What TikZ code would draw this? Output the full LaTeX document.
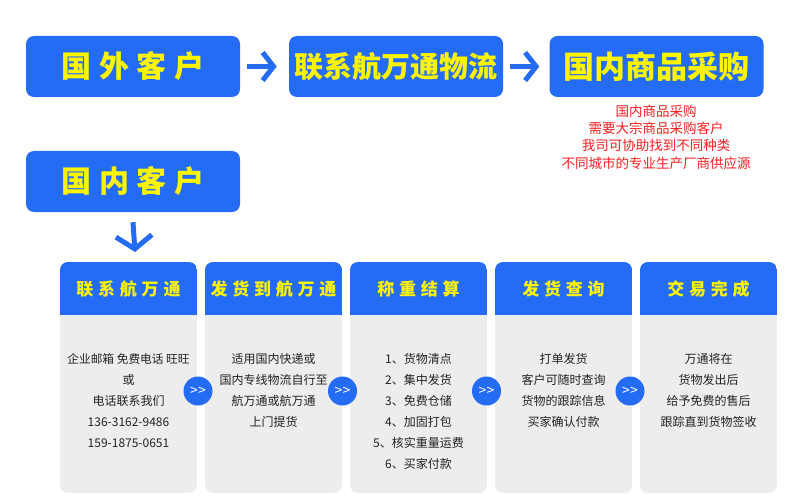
\documentclass[tikz,border=0pt]{standalone}
\usepackage{fontspec}
\setmainfont{Noto Sans CJK SC}
\usetikzlibrary{arrows.meta}
\definecolor{mblue}{RGB}{36,108,245}
\definecolor{myellow}{RGB}{255,245,0}
\definecolor{cardgray}{RGB}{237,237,237}
\definecolor{bodytext}{RGB}{34,34,34}
\definecolor{mred}{RGB}{250,30,30}
\tikzset{
  topbox/.style={fill=mblue, rounded corners=8pt, minimum width=214pt, minimum height=61pt, inner sep=0pt, text=myellow, font=\fontsize{30}{30}\selectfont\bfseries},
  arr/.style={draw=mblue, line width=5pt, -{Straight Barb[length=11pt, width=28pt]}},
  cardhead/.style={text=myellow, inner sep=0pt, font=\fontsize{17}{17}\selectfont\bfseries\addfontfeatures{LetterSpace=28}},
  cardbody/.style={text=bodytext, inner sep=0pt, align=center, font=\fontsize{12}{21}\selectfont},
  nextc/.style={circle, fill=mblue, minimum size=29pt, inner sep=0pt, text=white, font=\fontsize{14}{14}\selectfont},
  redtxt/.style={text=mred, inner sep=0pt, align=center, font=\fontsize{13.5}{17.3}\selectfont}
}
\begin{document}
\begin{tikzpicture}[x=1pt,y=-1pt]
\useasboundingbox (0,0) rectangle (790,500);
% top row
\node[topbox] (b1) at (133,66.5) {\addfontfeatures{LetterSpace=25}国外客户};
\node[topbox, font=\fontsize{29}{29}\selectfont\bfseries] (b2) at (396,66.5) {联系航万通物流};
\node[topbox, font=\fontsize{31}{31}\selectfont\bfseries] (b3) at (656.5,66.5) {国内商品采购};
\node[topbox] (b4) at (133,181.5) {\addfontfeatures{LetterSpace=25}国内客户};
\draw[arr] ([xshift=7pt]b1.east) -- ([xshift=-12pt]b2.west);
\draw[arr] ([xshift=7pt]b2.east) -- ([xshift=-10pt]b3.west);
\node[redtxt] (red) at (656,137) {国内商品采购\\需要大宗商品采购客户\\我司可协助找到不同种类\\不同城市的专业生产厂商供应源};
\coordinate (dn) at (135,252);
\draw[draw=mblue, line width=5pt, -{Straight Barb[length=13pt, width=36pt]}] ([yshift=-10pt]b4.south) -- (dn);
% cards
\foreach \i in {0,...,4}{
  \pgfmathsetmacro{\xa}{60+145*\i}
  \begin{scope}
    \clip[rounded corners=8pt] (\xa,262) rectangle ++(137,231);
    \fill[cardgray] (\xa,262) rectangle ++(137,231);
    \fill[mblue] (\xa,262) rectangle ++(137,53);
  \end{scope}
}
\node[cardhead] (h1) at (128.5,289) {联系航万通};
\node[cardhead] (h2) at (273.5,289) {发货到航万通};
\node[cardhead] (h3) at (418.5,289) {称重结算};
\node[cardhead] (h4) at (563.5,289) {发货查询};
\node[cardhead] (h5) at (708.5,289) {交易完成};
\node[cardbody] (t1) at (128.5,401) {{\fontsize{11.7}{21}\selectfont 企业邮箱 免费电话 旺旺}\\或\\电话联系我们\\136-3162-9486\\159-1875-0651};
\node[cardbody] (t2) at (273.5,390.5) {适用国内快递或\\国内专线物流自行至\\航万通或航万通\\上门提货};
\node[cardbody] (t3) at (418.5,411.5) {1、货物清点\\2、集中发货\\3、免费仓储\\4、加固打包\\5、核实重量运费\\6、买家付款};
\node[cardbody] (t4) at (563.5,390.5) {打单发货\\客户可随时查询\\货物的跟踪信息\\买家确认付款};
\node[cardbody] (t5) at (708.5,390.5) {万通将在\\货物发出后\\给予免费的售后\\跟踪直到货物签收};
\node[nextc] (c1) at (198,391) {{>}{>}};
\node[nextc] (c2) at (342.5,391) {{>}{>}};
\node[nextc] (c3) at (486.5,391) {{>}{>}};
\node[nextc] (c4) at (630,391) {{>}{>}};
\end{tikzpicture}
\end{document}
